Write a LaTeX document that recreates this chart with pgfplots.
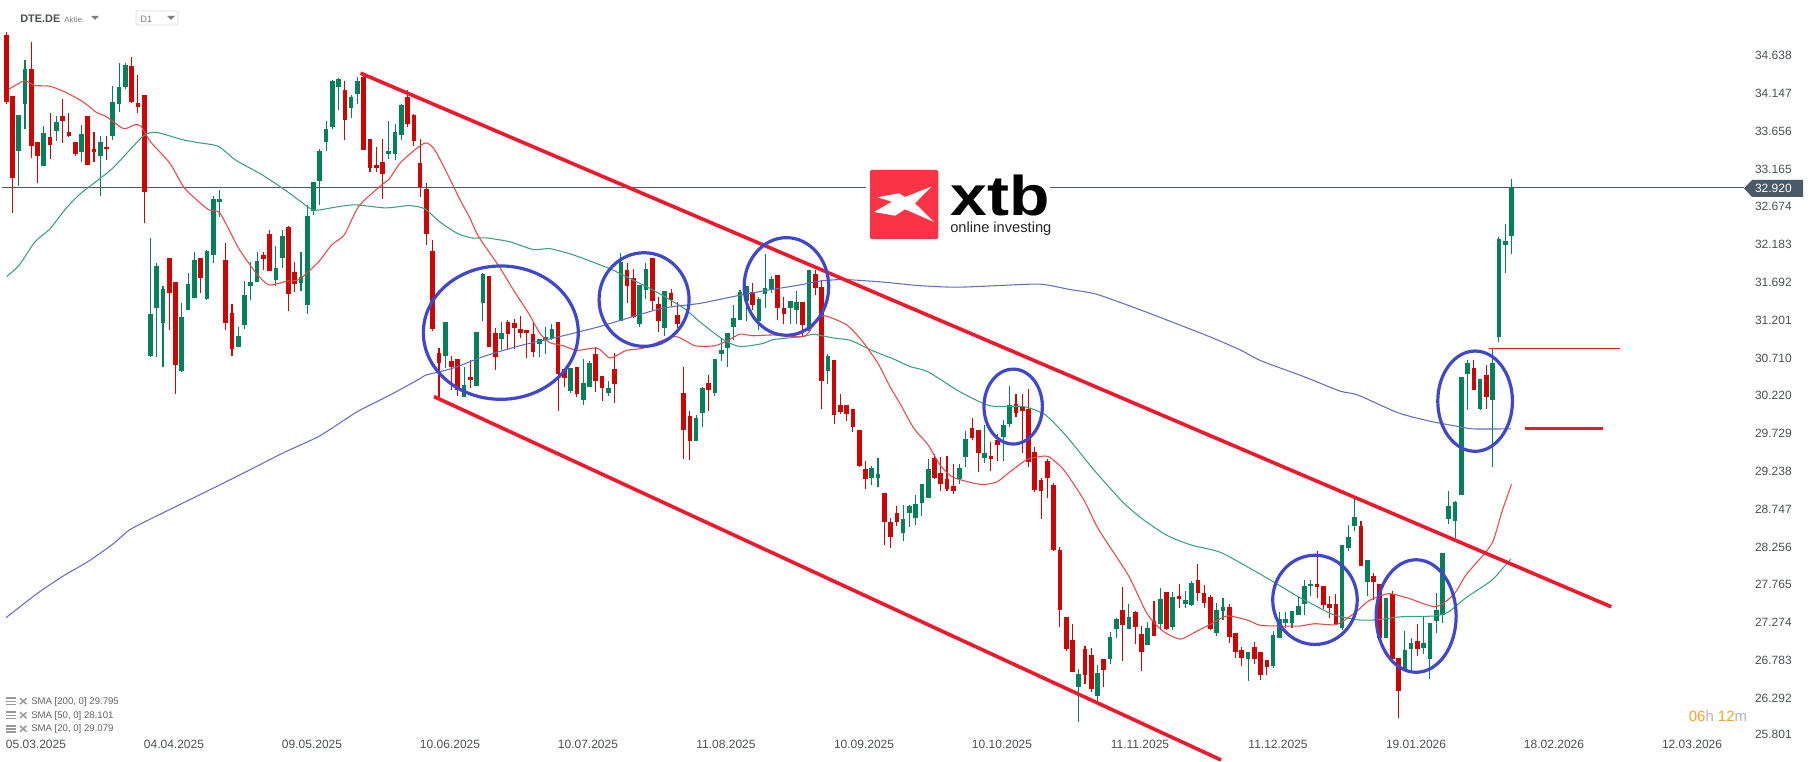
\documentclass[border=0pt]{standalone}
\usepackage{pgfplots}
\usepackage{pgfplotstable}
\usepackage{fontspec}
\setmainfont{Liberation Sans}
\pgfplotsset{compat=1.18}
\definecolor{cdn}{HTML}{CC0505}
\definecolor{cup}{HTML}{05805A}
\definecolor{s20}{HTML}{E5484D}
\definecolor{s50}{HTML}{3E9F80}
\definecolor{s200}{HTML}{6470BE}
\definecolor{chan}{HTML}{F0182C}
\definecolor{circ}{HTML}{3F48CC}
\definecolor{slate}{HTML}{4A5A66}
\definecolor{lbl}{HTML}{4A4F55}
\definecolor{logor}{HTML}{FA3444}
\definecolor{orng}{HTML}{F8A030}
% columns: bar index, body top, body bottom, high, low
\pgfplotstableread{
i t b h l
2 33.87 33.40 33.87 32.94
3 34.46 34.01 34.58 33.68
6 33.63 33.20 33.72 33.20
8 33.78 33.66 33.86 33.53
12 33.62 33.39 33.74 33.26
15 33.51 33.33 33.59 32.81
17 34.04 33.59 34.24 33.54
18 34.23 34.01 34.54 33.91
19 34.52 34.23 34.54 34.21
23 31.28 30.74 32.27 30.73
24 31.91 31.36 31.95 30.73
25 31.61 31.16 31.65 30.60
28 31.24 30.54 31.43 30.53
29 31.67 31.33 31.82 31.33
30 31.98 31.49 32.09 31.49
32 32.10 31.48 32.11 31.46
33 32.78 32.05 32.81 31.94
34 32.78 32.74 32.89 32.54
37 31.00 30.85 31.11 30.85
38 31.53 31.14 31.71 31.09
39 31.70 31.65 31.96 31.46
40 31.97 31.70 32.09 31.70
43 31.88 31.72 32.17 31.65
44 32.30 32.01 32.37 31.88
47 31.76 31.68 32.09 31.58
48 32.56 31.40 32.70 31.28
49 32.99 32.62 33.00 32.57
50 33.40 33.01 33.42 32.70
51 33.68 33.52 33.79 33.40
52 34.31 33.71 34.32 33.68
53 34.33 34.23 34.35 33.93
55 34.10 33.96 34.13 33.83
56 34.31 34.14 34.36 34.01
61 33.40 33.36 33.79 33.30
62 33.65 33.36 33.75 33.28
63 34.00 33.61 34.01 33.54
70 31.18 30.74 31.18 30.58
73 30.36 30.21 30.59 30.21
75 31.05 30.35 31.05 30.35
76 31.80 31.42 31.81 31.19
79 31.04 30.96 31.18 30.81
85 30.96 30.89 30.96 30.72
86 30.98 30.94 31.11 30.76
87 31.09 30.97 31.15 30.94
90 30.58 30.28 30.58 30.26
92 30.39 30.17 30.70 30.10
93 30.65 30.33 30.67 30.33
96 30.32 30.26 30.41 30.22
98 31.96 31.19 32.07 31.19
101 31.66 31.15 31.66 31.11
102 31.87 31.59 31.94 31.48
105 31.58 31.10 31.58 31.00
110 29.93 29.63 29.97 29.63
111 30.32 30.00 30.33 29.81
113 30.70 30.26 30.70 30.22
114 30.81 30.76 30.96 30.67
115 31.04 30.84 31.04 30.59
116 31.23 31.11 31.40 30.94
117 31.57 31.20 31.59 31.20
118 31.65 31.45 31.65 31.19
120 31.48 31.19 31.50 31.07
121 31.62 31.54 32.06 31.36
122 31.74 31.61 31.78 31.55
125 31.45 31.36 31.45 31.15
126 31.44 31.33 31.58 31.15
128 31.85 31.06 31.85 31.06
131 30.74 30.54 30.76 30.37
138 29.28 29.15 29.31 29.06
139 29.20 29.15 29.41 29.04
143 28.62 28.44 28.80 28.33
144 28.79 28.70 28.80 28.52
145 28.81 28.63 28.93 28.54
146 29.07 28.83 29.07 28.66
147 29.27 28.89 29.40 28.89
152 29.28 29.14 29.33 29.07
153 29.66 29.42 29.76 29.30
156 29.48 29.41 29.84 29.35
159 29.84 29.68 29.91 29.37
160 30.10 29.85 30.35 29.81
171 26.61 26.44 26.67 25.98
174 26.62 26.32 26.72 26.24
176 27.09 26.80 27.15 26.74
177 27.32 27.19 27.33 27.07
179 27.35 27.19 27.52 27.19
182 27.20 26.98 27.28 26.98
184 27.58 27.26 27.72 27.18
186 27.61 27.22 27.67 27.18
188 27.57 27.52 27.68 27.46
189 27.79 27.50 27.81 27.49
193 27.44 27.14 27.53 27.10
194 27.48 27.43 27.59 27.31
198 26.89 26.80 26.89 26.52
202 27.11 26.71 27.17 26.68
203 27.32 27.07 27.41 27.07
204 27.32 27.27 27.41 27.20
205 27.43 27.27 27.43 27.20
206 27.49 27.37 27.61 27.37
207 27.75 27.51 27.83 27.37
208 27.78 27.75 27.83 27.62
213 28.28 27.20 28.28 27.18
214 28.39 28.24 28.54 28.21
215 28.65 28.53 28.88 28.46
217 28.09 27.80 28.09 27.62
220 27.59 27.07 27.59 27.07
223 26.92 26.64 27.16 26.64
224 27.01 26.93 27.07 26.63
226 27.01 26.95 27.35 26.87
227 27.27 26.80 27.27 26.54
228 27.44 27.30 27.66 27.14
229 28.18 27.37 28.18 27.27
230 28.79 28.62 28.98 28.55
231 28.84 28.59 28.85 28.37
232 30.47 28.93 30.47 28.93
233 30.64 30.50 30.68 30.04
235 30.44 30.05 30.44 30.04
237 30.64 30.16 30.83 29.29
238 32.26 30.98 32.28 30.92
239 32.23 32.18 32.45 31.82
240 32.93 32.30 33.03 32.06
}\upbars
\pgfplotstableread{
i t b h l
0 34.91 34.04 34.94 34.01
1 34.11 33.05 34.11 32.60
4 34.46 33.46 34.81 33.31
5 33.51 33.33 33.51 32.98
7 33.58 33.48 33.89 33.30
9 33.86 33.79 34.07 33.50
10 33.65 33.59 33.89 33.58
11 33.51 33.36 33.51 33.33
13 33.85 33.22 33.85 33.22
14 33.42 33.39 33.65 33.26
16 33.45 33.42 33.59 33.28
20 34.50 34.04 34.62 34.02
21 34.02 33.97 34.39 33.89
22 34.13 32.87 34.13 32.46
26 32.01 31.56 32.01 31.07
27 31.70 30.62 31.70 30.24
31 32.01 31.75 32.01 31.55
35 31.98 31.16 32.20 31.07
36 31.30 30.83 31.41 30.74
41 32.05 32.00 32.09 31.85
42 32.32 31.84 32.37 31.84
45 32.41 31.54 32.43 31.32
46 31.83 31.67 31.96 31.57
54 34.19 33.80 34.31 33.54
57 34.36 33.41 34.39 33.41
58 33.55 33.18 33.55 33.13
59 33.22 33.18 33.45 33.13
60 33.26 33.10 33.55 32.78
64 34.10 33.75 34.19 33.71
65 33.87 33.53 33.88 33.46
66 33.24 32.93 33.55 32.80
67 32.91 32.32 32.98 32.18
68 32.10 31.09 32.24 31.06
69 30.78 30.65 30.84 30.21
71 30.67 30.59 30.74 30.30
72 30.70 30.29 30.70 30.22
74 30.46 30.43 30.68 30.32
77 31.78 30.85 31.78 30.85
78 31.04 30.73 31.10 30.55
80 31.18 31.02 31.20 30.83
81 31.17 31.10 31.22 30.83
82 31.09 31.04 31.26 30.97
83 31.07 31.04 31.07 30.71
84 31.02 30.79 31.17 30.72
88 31.18 30.50 31.18 30.02
89 30.57 30.45 30.57 30.33
91 30.59 30.24 30.59 30.20
94 30.76 30.41 30.85 30.27
95 30.48 30.32 30.48 30.15
97 30.57 30.37 30.78 30.13
99 31.85 31.65 31.94 31.43
100 31.75 31.24 31.87 31.23
103 32.01 31.45 32.01 31.33
104 31.41 31.19 31.50 31.05
106 31.55 31.46 31.61 31.39
107 31.27 31.15 31.44 31.10
108 30.26 29.78 30.59 29.40
109 29.96 29.63 30.02 29.39
112 30.39 30.30 30.49 30.02
119 31.57 31.40 31.68 31.33
123 31.79 31.36 31.79 31.20
124 31.36 31.28 31.50 31.15
127 31.44 31.14 31.44 30.98
129 31.80 31.62 31.85 31.53
130 31.63 30.41 31.72 30.05
132 30.68 29.97 30.68 29.85
133 30.10 30.01 30.24 29.98
134 30.10 29.98 30.10 29.89
135 30.05 29.81 30.05 29.75
136 29.78 29.31 29.78 29.30
137 29.27 29.14 29.37 29.01
140 28.96 28.58 28.96 28.28
141 28.58 28.39 28.63 28.24
142 28.70 28.58 28.79 28.53
148 29.41 29.15 29.46 29.14
149 29.22 29.07 29.42 28.98
150 29.14 29.01 29.44 28.98
151 29.05 28.98 29.33 28.94
154 29.80 29.67 29.93 29.65
155 29.78 29.48 29.78 29.23
157 29.44 29.40 29.62 29.24
158 29.65 29.58 29.73 29.37
161 30.11 30.00 30.24 29.94
162 30.07 30.02 30.24 29.48
163 30.05 29.36 30.31 29.30
164 29.49 29.00 29.55 28.97
165 29.13 28.98 29.15 28.62
166 29.37 29.15 29.40 28.89
167 29.06 28.22 29.09 28.20
168 28.22 27.44 28.26 27.22
169 27.35 26.93 27.35 26.91
170 27.05 26.63 27.26 26.63
172 26.93 26.59 26.97 26.48
173 26.85 26.41 26.94 26.37
175 26.80 26.66 26.80 26.44
178 27.44 27.24 27.74 26.78
180 27.41 27.22 27.43 27.00
181 27.13 26.89 27.23 26.65
183 27.30 27.10 27.56 27.10
185 27.67 27.19 27.67 27.18
187 27.62 27.58 27.78 27.46
190 27.83 27.66 28.04 27.56
191 27.66 27.53 27.76 27.46
192 27.61 27.19 27.63 27.18
195 27.48 27.09 27.52 27.01
196 27.14 26.89 27.14 26.81
197 26.92 26.81 26.96 26.71
199 26.96 26.80 27.02 26.74
200 26.89 26.59 26.89 26.53
201 26.79 26.70 26.79 26.59
209 27.78 27.74 28.20 27.60
210 27.75 27.50 27.75 27.45
211 27.52 27.46 27.62 27.33
212 27.52 27.25 27.65 27.25
216 28.53 28.01 28.59 28.01
218 27.88 27.80 27.92 27.57
219 27.78 27.07 27.78 27.07
221 27.65 26.80 27.69 26.80
222 26.81 26.38 26.81 26.04
225 27.04 26.93 27.25 26.84
234 30.58 30.30 30.68 30.30
236 30.49 30.21 30.62 30.05
}\downbars
\begin{document}
\begin{tikzpicture}
\path[use as bounding box] (0,0) rectangle (1361.25pt,570.75pt);
\begin{axis}[
  at={(0,0)},anchor=south west,
  scale only axis,width=1361.25pt,height=570.75pt,
  xmin=-0.9885,xmax=288.39,ymin=25.477,ymax=35.36,
  axis line style={draw=none},
  major tick length=0pt,
  minor tick num=0,
  xtick={4.75,26.75,48.76,70.76,92.76,114.76,136.77,158.77,180.77,202.78,224.78,246.78,268.79},
  xticklabels={05.03.2025,04.04.2025,09.05.2025,10.06.2025,10.07.2025,11.08.2025,10.09.2025,10.10.2025,11.11.2025,11.12.2025,19.01.2026,18.02.2026,12.03.2026},
  ytick={25.801,26.292,26.783,27.274,27.765,28.256,28.747,29.238,29.729,30.220,30.710,31.201,31.692,32.183,32.674,33.165,33.656,34.147,34.638},
  yticklabels={\raisebox{3pt}{25.801},26.292,26.783,27.274,27.765,28.256,28.747,29.238,29.729,30.220,30.710,31.201,31.692,32.183,32.674,33.165,33.656,34.147,34.638},
  ytick pos=right,yticklabel pos=right,
  xticklabel style={font=\fontsize{9}{10}\selectfont,color=lbl,anchor=center,yshift=12.2pt,inner sep=0pt},
  yticklabel style={font=\fontsize{9}{10}\selectfont,color=lbl,anchor=east,xshift=-17.25pt,inner sep=0pt},
  clip=true,
]
% last-price line
\addplot[slate,line width=0.9pt,forget plot] coordinates {(-0.67,32.92) (277,32.92)};
% wicks and bodies
\addplot[draw=none,mark=none,forget plot,error bars/.cd,y dir=plus,y explicit,error mark=none,error bar style={draw=cup,line width=0.8pt}]
  table[x=i,y=l,y error plus expr=\thisrow{h}-\thisrow{l}] {\upbars};
\addplot[draw=none,mark=none,forget plot,error bars/.cd,y dir=plus,y explicit,error mark=none,error bar style={draw=cup,line width=3.5pt}]
  table[x=i,y=b,y error plus expr=\thisrow{t}-\thisrow{b}] {\upbars};
\addplot[draw=none,mark=none,forget plot,error bars/.cd,y dir=plus,y explicit,error mark=none,error bar style={draw=cdn,line width=0.8pt}]
  table[x=i,y=l,y error plus expr=\thisrow{h}-\thisrow{l}] {\downbars};
\addplot[draw=none,mark=none,forget plot,error bars/.cd,y dir=plus,y explicit,error mark=none,error bar style={draw=cdn,line width=3.5pt}]
  table[x=i,y=b,y error plus expr=\thisrow{t}-\thisrow{b}] {\downbars};
% SMA 200
\addplot[s200,line width=0.8pt,smooth,tension=0.4] coordinates {
(0,27.34)(4.9,27.65)(9.1,27.88)(13.1,28.07)(17.1,28.30)(19.7,28.48)(24,28.66)(32,28.98)(38.9,29.26)(44.2,29.48)(50,29.70)(55.9,30.01)(61.2,30.23)(65.7,30.43)(67,30.49)(71.3,30.58)(76.1,30.73)(81.9,30.87)(87.8,30.98)(94.2,31.11)(100,31.25)(104.8,31.36)(110.6,31.42)(116,31.51)(121.3,31.59)(126.6,31.66)(129.8,31.71)(133.5,31.73)(139.3,31.70)(145.7,31.65)(151.5,31.63)(157.9,31.65)(164.8,31.67)(169.6,31.60)(173.8,31.54)(180.7,31.34)(187.1,31.14)(192.4,30.97)(196.9,30.81)(199.9,30.68)(206.2,30.49)(208.1,30.43)(212.7,30.28)(215.5,30.23)(221.9,30.00)(227,29.89)(231.6,29.82)(233.9,29.79)(239.9,29.79)};
% SMA 50
\addplot[s50,line width=0.8pt,smooth,tension=0.4] coordinates {
(0.1,31.77)(2.1,31.92)(4.6,32.22)(7,32.39)(9.5,32.65)(11.9,32.85)(16.9,33.17)(21.8,33.59)(24,33.64)(27.9,33.55)(30.4,33.51)(33.8,33.46)(36.6,33.28)(40.8,33.09)(44.5,32.89)(47,32.74)(49.1,32.63)(52.5,32.67)(55.6,32.70)(60.5,32.66)(64.2,32.69)(66.7,32.65)(69.1,32.48)(71.9,32.33)(74.2,32.27)(76.6,32.27)(80.3,32.22)(84,32.12)(86.7,32.13)(90.4,32.05)(94.7,31.92)(96.8,31.85)(100,31.72)(103.2,31.59)(108,31.36)(110.6,31.18)(114.3,30.95)(117,30.86)(120.7,30.90)(122.3,30.95)(127.1,30.99)(128.7,31.02)(131.9,30.97)(134.6,30.94)(138,30.81)(141.7,30.69)(144.1,30.60)(147,30.53)(152.1,30.27)(156.9,30.09)(162.2,30.08)(165.7,29.97)(169.1,29.69)(173.4,29.26)(177.9,28.85)(181,28.63)(185,28.41)(189,28.28)(193.5,28.19)(198.3,27.98)(201.7,27.82)(205.8,27.62)(208.6,27.50)(211.5,27.38)(215.5,27.31)(218.4,27.31)(222.4,27.35)(227.6,27.36)(229.9,27.41)(232.8,27.60)(236.8,27.82)(238.5,27.97)(239.9,28.10)};
% SMA 20
\addplot[s20,line width=0.8pt,smooth,tension=0.4] coordinates {
(0.4,34.20)(2.9,34.31)(4.6,34.25)(7,34.24)(9.5,34.16)(12.2,34.04)(14.4,33.90)(15.9,33.85)(18.7,33.69)(20.5,33.74)(21.5,33.72)(23,33.52)(26.1,33.24)(28.5,32.91)(32.2,32.64)(34.1,32.59)(37.1,32.13)(39.9,31.81)(41.9,31.66)(44.8,31.71)(46.7,31.73)(49.8,31.96)(51.9,32.18)(53.9,32.31)(56.2,32.68)(59.6,32.94)(61.1,33.04)(63,33.26)(66.7,33.50)(68.5,33.39)(72.4,32.76)(73.8,32.55)(75.3,32.29)(78.5,31.91)(80.9,31.59)(83.3,31.29)(85.1,31.03)(86.7,30.91)(88.8,30.87)(91,30.81)(94.2,30.84)(96,30.72)(96.8,30.72)(98.9,30.81)(101.6,30.84)(106.6,30.99)(109.8,30.87)(113,30.87)(115.1,30.94)(117,31.02)(119.1,31.00)(122.3,31.01)(127.1,30.99)(128.4,31.10)(129.9,31.25)(131,31.25)(134,31.14)(136.4,30.94)(139,30.64)(140.9,30.34)(142.5,30.12)(144.7,29.80)(147,29.58)(148.9,29.32)(151,29.16)(155.3,29.07)(157.9,29.10)(160,29.23)(162.7,29.39)(164.9,29.43)(166.2,29.43)(168.6,29.26)(171.8,28.87)(174.2,28.48)(178.9,27.89)(181.9,27.39)(184.5,27.16)(187.2,27.06)(189.3,27.14)(191.7,27.24)(194.6,27.36)(197.8,27.31)(199.9,27.24)(203.1,27.23)(206.3,27.23)(208.6,27.26)(212.1,27.25)(215,27.40)(217.3,27.56)(220.4,27.65)(223.6,27.59)(227.9,27.48)(230.8,27.64)(232.8,27.90)(235.7,28.17)(237.1,28.34)(238.5,28.72)(240,29.07)};
% channel and levels
\addplot[chan,line width=2.7pt] coordinates {(56.5,34.41)(255.9,27.48)};
\addplot[chan,line width=2.7pt] coordinates {(68.2,30.21)(193.7,25.49)};
\addplot[chan,line width=0.9pt] coordinates {(236.4,30.83)(257.3,30.83)};
\addplot[chan,line width=2.4pt] coordinates {(242.2,29.79)(254.6,29.79)};
% circled areas
\draw[circ,line width=2.4pt] (axis cs:78.86,31.04) ellipse [x radius=58.1pt,y radius=50pt];
\draw[circ,line width=2.4pt] (axis cs:101.7,31.47) ellipse [x radius=33.75pt,y radius=35.1pt];
\draw[circ,line width=2.4pt] (axis cs:124.4,31.64) ellipse [x radius=31.7pt,y radius=36.6pt];
\draw[circ,line width=2.4pt] (axis cs:160.55,30.08) ellipse [x radius=21.9pt,y radius=28.1pt];
\draw[circ,line width=2.4pt] (axis cs:208.67,27.57) ellipse [x radius=31.7pt,y radius=33.45pt];
\draw[circ,line width=2.4pt] (axis cs:224.8,27.36) ellipse [x radius=30pt,y radius=42.2pt];
\draw[circ,line width=2.4pt] (axis cs:234.2,30.15) ellipse [x radius=28pt,y radius=37.6pt];
\end{axis}
\begin{scope}[yshift=570.75pt,x=0.75pt,y=-0.75pt]
% logo
\fill[white] (866,165) rectangle (1050,245);
\fill[logor,rounded corners=1pt] (870,170) rectangle (938.3,239);
\fill[white] (877.3,197.3) -- (899,193.3) -- (905,197) -- (931.3,186.7) -- (915,203.3) -- (934,222) -- (905,209.3) -- (895,215.7) -- (874,212) -- (892,201.7) -- cycle;
\node[inner sep=0pt,anchor=base west] at (950,216) {\scalebox{1.18}[1]{\fontsize{42}{42}\selectfont\bfseries xtb}};
\node[inner sep=0pt,anchor=base west,text=black!85] at (950,232.5) {\fontsize{11}{11}\selectfont online investing};
% price flag
\fill[slate] (1744,188.3) -- (1752,180) -- (1803,180) -- (1803,197) -- (1752,197) -- cycle;
\node[anchor=east,inner sep=0pt,text=white] at (1792,188.8) {\fontsize{9}{10}\selectfont 32.920};
% header
\node[anchor=west,inner sep=0pt,text=lbl] at (20,19) {\fontsize{8.2}{10}\selectfont\bfseries DTE.DE};
\node[anchor=west,inner sep=0pt,text=black!50] at (64,19.5) {\fontsize{6}{7}\selectfont Aktie};
\fill[black!50] (91,16) -- (99,16) -- (95,20) -- cycle;
\draw[black!15,rounded corners=1pt,line width=0.6pt] (136,11) rectangle (178,25);
\node[anchor=west,inner sep=0pt,text=black!50] at (140,19) {\fontsize{7}{8}\selectfont D1};
\fill[black!50] (167,16) -- (175,16) -- (171,20) -- cycle;
% indicator legend
\foreach \yy/\tt in {701.7/{SMA  [200,  0] 29.795},715.7/{SMA  [50,  0] 28.101},729.3/{SMA  [20,  0] 29.079}}{
  \fill[black!40] (6,\yy-4.5) rectangle (16,\yy-2.5);
  \fill[black!40] (6,\yy-1) rectangle (16,\yy+0.5);
  \fill[black!40] (6,\yy+2) rectangle (16,\yy+3.5);
  \draw[black!40,line width=1.1pt] (20,\yy-3.5) -- (26.5,\yy+2.5) (26.5,\yy-3.5) -- (20,\yy+2.5);
  \node[anchor=west,inner sep=0pt,text=black!62] at (31,\yy) {\fontsize{7.2}{8}\selectfont \tt};
}
% countdown
\node[anchor=west,inner sep=0pt] at (1688.6,716) {\fontsize{11.2}{12}\selectfont\textcolor{orng}{06}\textcolor{black!30}{h} \textcolor{orng}{12}\textcolor{black!30}{m}};
\end{scope}
\end{tikzpicture}
\end{document}
